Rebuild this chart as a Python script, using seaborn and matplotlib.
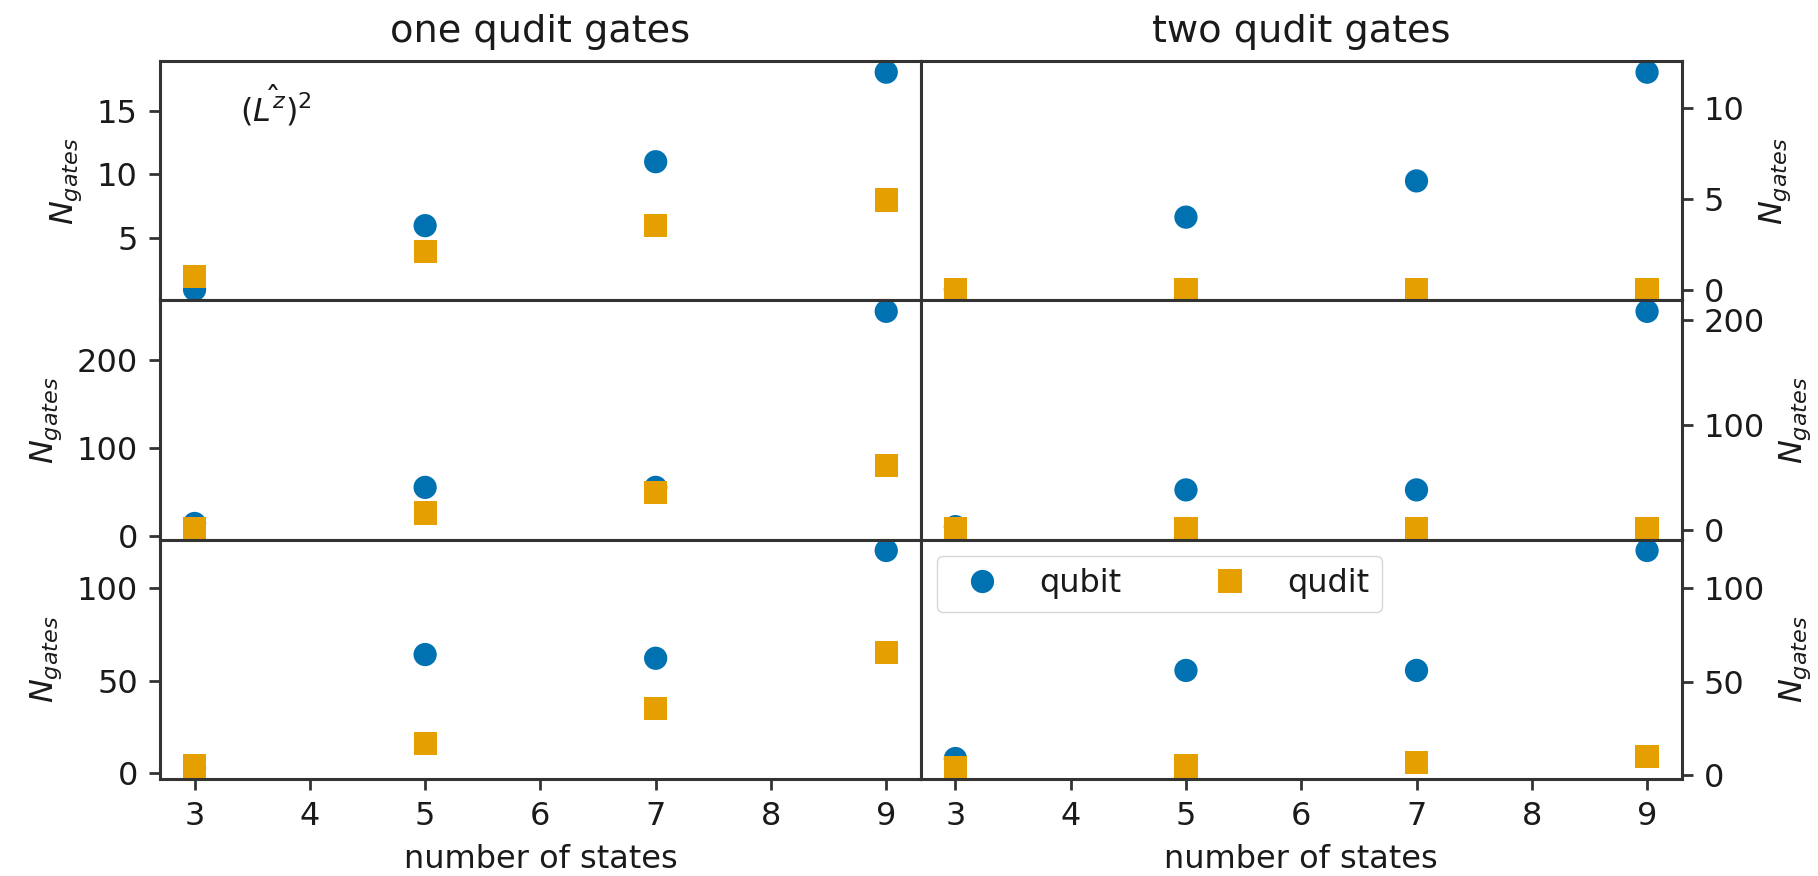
import numpy as np
import pandas as pd
import matplotlib
matplotlib.use("Agg")
import matplotlib.pyplot as plt
from matplotlib.ticker import MultipleLocator
import seaborn as sns

# number of states on the x axis
states = [3, 5, 7, 9]

# one qudit gates (left column), one entry per row of panels
one_r1_qubit = [1, 6, 11, 18]
one_r1_qudit = [2, 4, 6, 8]
one_r2_qubit = [14, 55, 55, 255]
one_r2_qudit = [8, 26, 49, 80]
one_r3_qubit = [3, 64, 62, 120]
one_r3_qudit = [4, 16, 35, 65]

# two qudit gates (right column)
two_r1_qubit = [0, 4, 6, 12]
two_r1_qudit = [0, 0, 0, 0]
two_r2_qubit = [3, 38, 38, 208]
two_r2_qudit = [1, 1, 1, 1]
two_r3_qubit = [9, 56, 56, 120]
two_r3_qudit = [4, 5, 7, 10]

column_titles = ["one qudit gates", "two qudit gates"]
kinds = ["qubit", "qudit"]

panels = {
    (0, 0): (one_r1_qubit, one_r1_qudit),
    (1, 0): (one_r2_qubit, one_r2_qudit),
    (2, 0): (one_r3_qubit, one_r3_qudit),
    (0, 1): (two_r1_qubit, two_r1_qudit),
    (1, 1): (two_r2_qubit, two_r2_qudit),
    (2, 1): (two_r3_qubit, two_r3_qudit),
}

records = []
for (r, c), (qb, qd) in panels.items():
    for kind, vals in zip(kinds, (qb, qd)):
        for s, v in zip(states, vals):
            records.append(dict(row=r, col=c, states=s, N=v, kind=kind))
df = pd.DataFrame(records)

sns.set_style("ticks")
plt.rcParams.update({
    "font.family": ["DejaVu Sans"],
    "font.size": 23,
    "axes.titlesize": 27.5,
    "axes.labelsize": 23,
    "xtick.labelsize": 23,
    "ytick.labelsize": 23,
    "legend.fontsize": 23,
    "axes.edgecolor": "0.2",
    "axes.linewidth": 2.2,
    "xtick.color": "0.2",
    "ytick.color": "0.2",
    "xtick.labelcolor": "0.1",
    "ytick.labelcolor": "0.1",
    "xtick.major.width": 2.0,
    "ytick.major.width": 2.0,
    "xtick.major.size": 8,
    "ytick.major.size": 8,
    "xtick.major.pad": 8,
    "ytick.major.pad": 8,
    "axes.labelpad": 9,
    "axes.titlepad": 14,
    "text.color": "0.1",
    "axes.labelcolor": "0.1",
})

palette = {"qubit": "#0072B2", "qudit": "#E69F00"}
markers = {"qubit": "o", "qudit": "s"}

fig, axes = plt.subplots(3, 2, figsize=(18.18, 8.76), dpi=100, sharex=True,
                         gridspec_kw=dict(hspace=0, wspace=0))
fig.subplots_adjust(left=0.088, right=0.925, top=0.930, bottom=0.111)

ystep = {0: 5, 1: 100, 2: 50}

for (r, c), _ in panels.items():
    ax = axes[r, c]
    sub = df[(df.row == r) & (df.col == c)]
    show_legend = (r == 2 and c == 1)
    sns.scatterplot(data=sub, x="states", y="N", hue="kind", style="kind",
                    palette=palette, markers=markers, s=280, linewidth=0,
                    ax=ax, legend=show_legend)
    ax.yaxis.set_major_locator(MultipleLocator(ystep[r]))
    ax.set_ylabel(r"$N_{gates}$")
    if c == 1:
        ax.yaxis.tick_right()
        ax.yaxis.set_label_position("right")
    if r == 2:
        ax.set_xlabel("number of states")
    else:
        ax.set_xlabel("")
    if r == 0:
        ax.set_title(column_titles[c])

axes[0, 0].text(0.105, 0.72, r"$(\hat{L^z})^2$", transform=axes[0, 0].transAxes,
                ha="left", va="bottom", fontsize=23)

sns.move_legend(axes[2, 1], "upper left", ncol=2, title=None, frameon=True,
                columnspacing=2.4)

fig.savefig("out.png", dpi=100)
